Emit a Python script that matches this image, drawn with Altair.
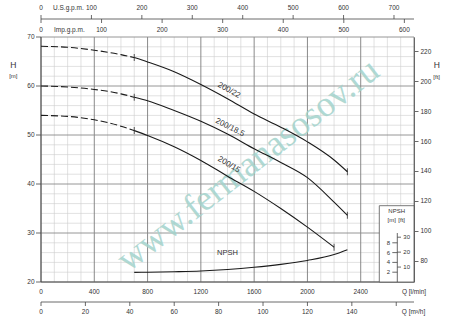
import altair as alt
import pandas as pd

# ---------------- data ----------------
Q_PUMP = [0, 200, 400, 600, 700, 800, 1000, 1200, 1400, 1600, 1800, 2000, 2200, 2300]
H_200_22 = [68.1, 67.9, 67.3, 66.4, 65.8, 64.9, 62.9, 60.3, 57.4, 54.3, 51.6, 48.6, 44.9, 42.5]
H_200_185 = [60.0, 59.8, 59.3, 58.4, 57.7, 57.0, 55.0, 52.8, 50.2, 47.2, 44.4, 41.3, 36.3, 33.6]
Q_PUMP_15 = [0, 200, 400, 600, 700, 800, 1000, 1200, 1400, 1600, 1800, 2000, 2200]
H_200_15 = [54.0, 53.8, 53.1, 51.8, 50.9, 49.9, 47.6, 44.8, 41.6, 38.5, 35.0, 31.2, 27.1]
Q_NPSH = [700, 800, 1000, 1200, 1400, 1600, 1800, 2000, 2200, 2300]
NPSH_M = [1.96, 2.0, 2.1, 2.25, 2.55, 3.0, 3.6, 4.4, 5.6, 6.6]
DASH_LIMIT = 700

CURVE_NAMES = ["200/22", "200/18.5", "200/15"]
LABEL_Q = [1411, 1418, 1410]
LABEL_H = [59.1, 51.5, 43.9]
LABEL_ANGLE = [29, 27, 31]
NPSH_LABEL = ["NPSH"]
NPSH_LABEL_Q = [1400]
NPSH_LABEL_H = [25.85]

X_TICKS = [0, 400, 800, 1200, 1600, 2000, 2400]
X_UNIT_LABEL = ["Q [l/min]"]
X_UNIT_POS = [2800]
H_TICKS = [20, 30, 40, 50, 60, 70]
FT_TICKS = [80, 100, 120, 140, 160, 180, 200, 220]
US_GPM_TICKS = [0, 100, 200, 300, 400, 500, 600, 700]
IMP_GPM_TICKS = [0, 100, 200, 300, 400, 500, 600]
M3H_TICKS = [0, 20, 40, 60, 80, 100, 120, 140, 160]
M3H_LABELS = [0, 20, 40, 60, 80, 100, 120, 140]
NPSH_M_TICKS = [2, 4, 6, 8]
NPSH_FT_TICKS = [10, 20, 30]
NPSH_AXIS_M = [0, 10]
WATERMARK = ["www.fermanasosov.ru"]

GRID_Q = list(range(0, 2801, 100))
GRID_H = list(range(20, 71, 2))

# unit conversions
L_PER_USGAL = 3.78541
L_PER_IMPGAL = 4.54609
LMIN_PER_M3H = 1000 / 60
M_PER_FT = 0.3048
H_BASE = 20  # NPSH zero sits on the 20 m line

FONT = "Liberation Sans"
TXT = "#333333"
LINE = "#1a1a1a"
AX = "#444444"

W, HGT = 373, 245
xs = alt.Scale(domain=[0, 2800], nice=False, zero=False)
ys = alt.Scale(domain=[20, 70], nice=False, zero=False)
fts = alt.Scale(domain=[20 / M_PER_FT, 70 / M_PER_FT], nice=False, zero=False)


def X(f):
    return alt.X(f, type="quantitative", scale=xs, axis=None)


def Y(f):
    return alt.Y(f, type="quantitative", scale=ys, axis=None)


one = pd.DataFrame({"k": [0]})

# ---------------- grid ----------------
gq = pd.DataFrame({"Q": GRID_Q})
gq["major"] = gq["Q"] % 400 == 0
gh = pd.DataFrame({"H": GRID_H})
gh["major"] = gh["H"] % 10 == 0

grid_v_minor = alt.Chart(gq[~gq.major]).mark_rule(color="#cdcdcd", strokeWidth=0.6).encode(x=X("Q"))
grid_h_minor = alt.Chart(gh[~gh.major]).mark_rule(color="#cdcdcd", strokeWidth=0.6).encode(y=Y("H"))
grid_v_major = alt.Chart(gq[gq.major]).mark_rule(color="#7d7d7d", strokeWidth=0.9).encode(x=X("Q"))
grid_h_major = alt.Chart(gh[gh.major]).mark_rule(color="#8a8a8a", strokeWidth=0.9).encode(y=Y("H"))
bottom_line = alt.Chart(pd.DataFrame({"H": [20]})).mark_rule(color="#555555", strokeWidth=1).encode(y=Y("H"))
left_line = alt.Chart(pd.DataFrame({"Q": [0]})).mark_rule(color=AX, strokeWidth=0.9).encode(x=X("Q"))

# ---------------- main axes (drawn as marks) ----------------
xl = pd.DataFrame({"Q": X_TICKS})
x_labels = alt.Chart(xl).mark_text(font=FONT, fontSize=6.5, color=TXT, align="center",
                                   baseline="middle").encode(
    x=X("Q"), y=alt.value(255), text=alt.Text("Q:Q", format="d"))
x_unit = alt.Chart(pd.DataFrame({"t": X_UNIT_LABEL, "Q": X_UNIT_POS})).mark_text(
    font=FONT, fontSize=6.5, color=TXT, align="center", baseline="middle").encode(
    x=X("Q"), y=alt.value(255), text="t:N")
hl = pd.DataFrame({"H": H_TICKS})
y_ticks = alt.Chart(hl).mark_rule(color=AX, strokeWidth=0.8).encode(
    x=alt.value(-5), x2=alt.value(0), y=Y("H"))
y_labels = alt.Chart(hl).mark_text(font=FONT, fontSize=6.5, color=TXT, align="right",
                                   baseline="middle").encode(
    x=alt.value(-6.5), y=Y("H"), text=alt.Text("H:Q", format="d"))

# ---------------- watermark ----------------
watermark = alt.Chart(pd.DataFrame({"t": WATERMARK})).mark_text(
    font="Liberation Serif", fontSize=36, angle=322, color="#a3d3cc", opacity=0.85,
    align="center", baseline="middle").encode(x=alt.value(207), y=alt.value(128), text="t:N")

# ---------------- curves ----------------
rows = []
for name, qs, hs in [("200/22", Q_PUMP, H_200_22), ("200/18.5", Q_PUMP, H_200_185),
                     ("200/15", Q_PUMP_15, H_200_15)]:
    for q, h in zip(qs, hs):
        rows.append({"curve": name, "Q": q, "H": h})
cdf = pd.DataFrame(rows)
dashed = cdf[cdf.Q <= DASH_LIMIT]
solid = cdf[cdf.Q >= DASH_LIMIT]
ends = cdf.groupby("curve").tail(1)
marks_df = pd.concat([cdf[cdf.Q == DASH_LIMIT], ends])

dash_layer = alt.Chart(dashed).mark_line(color=LINE, strokeWidth=1.1, strokeDash=[7, 3],
                                         interpolate="monotone").encode(
    x=X("Q"), y=Y("H"), detail="curve:N")
solid_layer = alt.Chart(solid).mark_line(color=LINE, strokeWidth=1.1,
                                         interpolate="monotone").encode(
    x=X("Q"), y=Y("H"), detail="curve:N")
tick_layer = alt.Chart(marks_df).mark_tick(orient="vertical", size=7, thickness=1,
                                           color=LINE).encode(x=X("Q"), y=Y("H"))

ndf = pd.DataFrame({"Q": Q_NPSH, "npsh": NPSH_M})
npsh_layer = alt.Chart(ndf).transform_calculate(H=f"{H_BASE} + datum.npsh").mark_line(
    color=LINE, strokeWidth=1.1, interpolate="monotone").encode(x=X("Q"), y=Y("H"))

lab_df = pd.DataFrame({"t": CURVE_NAMES, "Q": LABEL_Q, "H": LABEL_H, "a": LABEL_ANGLE})
label_layers = [
    alt.Chart(lab_df.iloc[[i]]).mark_text(font=FONT, fontSize=8, color=TXT, angle=int(a),
                                         align="center", baseline="middle").encode(
        x=X("Q"), y=Y("H"), text="t:N")
    for i, a in enumerate(LABEL_ANGLE)
]
npsh_lab = alt.Chart(pd.DataFrame({"t": NPSH_LABEL, "Q": NPSH_LABEL_Q, "H": NPSH_LABEL_H})).mark_text(
    font=FONT, fontSize=7.5, color=TXT, align="center", baseline="middle").encode(
    x=X("Q"), y=Y("H"), text="t:N")

# ---------------- NPSH inset ----------------
inset_box = alt.Chart(one).mark_rect(fill="white", stroke="#555555", strokeWidth=0.8).encode(
    x=alt.value(338.3), x2=alt.value(W), y=alt.value(168.7), y2=alt.value(HGT))
inset_axis = alt.Chart(pd.DataFrame({"m0": [NPSH_AXIS_M[0]], "m1": [NPSH_AXIS_M[1]]})).transform_calculate(
    h0=f"{H_BASE} + datum.m0", h1=f"{H_BASE} + datum.m1").mark_rule(color=AX, strokeWidth=0.8).encode(
    x=alt.value(356.3), y=Y("h0"), y2=alt.Y2("h1"))
m_df = pd.DataFrame({"v": NPSH_M_TICKS})
ft_df = pd.DataFrame({"v": NPSH_FT_TICKS})
inset_m_ticks = alt.Chart(m_df).transform_calculate(H=f"{H_BASE} + datum.v").mark_rule(
    color=AX, strokeWidth=0.8).encode(x=alt.value(351.3), x2=alt.value(356.3), y=Y("H"))
inset_m_labels = alt.Chart(m_df).transform_calculate(H=f"{H_BASE} + datum.v").mark_text(
    font=FONT, fontSize=6, color=TXT, align="center", baseline="middle").encode(
    x=alt.value(347.3), y=Y("H"), text=alt.Text("v:Q", format="d"))
inset_ft_ticks = alt.Chart(ft_df).transform_calculate(H=f"{H_BASE} + datum.v * {M_PER_FT}").mark_rule(
    color=AX, strokeWidth=0.8).encode(x=alt.value(356.3), x2=alt.value(360), y=Y("H"))
inset_ft_labels = alt.Chart(ft_df).transform_calculate(H=f"{H_BASE} + datum.v * {M_PER_FT}").mark_text(
    font=FONT, fontSize=6, color=TXT, align="center", baseline="middle").encode(
    x=alt.value(365.7), y=Y("H"), text=alt.Text("v:Q", format="d"))
inset_texts = alt.Chart(pd.DataFrame({"t": ["NPSH", "[m]", "[ft]"], "px": [355.7, 350.7, 360.7],
                                      "py": [174, 183, 183]})).mark_text(
    font=FONT, fontSize=6, color=TXT, align="center", baseline="middle").encode(
    x=alt.X("px:Q", scale=None, axis=None), y=alt.Y("py:Q", scale=None, axis=None), text="t:N")


# ---------------- secondary flow axes (top and bottom) ----------------
def flow_axis(values, factor, line_y, tick_dir, label_y, labels=None):
    d = pd.DataFrame({"v": values})
    ticks = alt.Chart(d).transform_calculate(Q=f"datum.v * {factor}").mark_rule(
        color=AX, strokeWidth=0.8).encode(x=X("Q"), y=alt.value(line_y), y2=alt.value(line_y + tick_dir))
    ld = pd.DataFrame({"v": labels if labels is not None else values})
    labs = alt.Chart(ld).transform_calculate(Q=f"datum.v * {factor}").mark_text(
        font=FONT, fontSize=6.5, color=TXT, align="center", baseline="middle").encode(
        x=X("Q"), y=alt.value(label_y), text=alt.Text("v:Q", format="d"))
    return [ticks, labs]


top_line = alt.Chart(one).mark_rule(color=AX, strokeWidth=0.8).encode(
    x=alt.value(0), x2=alt.value(W), y=alt.value(-18))
bot_line = alt.Chart(one).mark_rule(color=AX, strokeWidth=0.8).encode(
    x=alt.value(0), x2=alt.value(W), y=alt.value(265))
us_axis = flow_axis(US_GPM_TICKS, L_PER_USGAL, -18, -4, -29.5)
imp_axis = flow_axis(IMP_GPM_TICKS, L_PER_IMPGAL, -18, 4, -7)
m3h_axis = flow_axis(M3H_TICKS, LMIN_PER_M3H, 265, 4, 274.5, M3H_LABELS)

side_texts_df = pd.DataFrame({
    "t": ["U.S.g.p.m.", "Imp.g.p.m.", "Q [m³/h]", "H", "[m]", "H", "[ft]"],
    "px": [12, 13, 372.5, -27.7, -27.7, 395.7, 395.7],
    "py": [-29.5, -7, 274.5, 28, 39, 28, 39.7],
    "fs": [6.5, 6.5, 6.5, 8.5, 6, 8.5, 6],
    "al": ["left", "left", "center", "center", "center", "center", "center"],
})
side_text_layers = []
for al in ["left", "center"]:
    for fs in sorted(side_texts_df.fs.unique()):
        sub = side_texts_df[(side_texts_df.al == al) & (side_texts_df.fs == fs)]
        if len(sub) == 0:
            continue
        side_text_layers.append(alt.Chart(sub).mark_text(
            font=FONT, fontSize=float(fs), color=TXT, align=al, baseline="middle").encode(
            x=alt.X("px:Q", scale=None, axis=None), y=alt.Y("py:Q", scale=None, axis=None), text="t:N"))

inner = alt.layer(
    grid_v_minor, grid_h_minor, grid_v_major, grid_h_major, bottom_line, left_line,
    watermark,
    inset_box, inset_axis, inset_m_ticks, inset_m_labels, inset_ft_ticks, inset_ft_labels, inset_texts,
    dash_layer, solid_layer, npsh_layer, tick_layer, *label_layers, npsh_lab,
    x_labels, x_unit, y_ticks, y_labels,
    top_line, bot_line, *us_axis, *imp_axis, *m3h_axis, *side_text_layers,
)

ft_layer = alt.Chart(pd.DataFrame({"ft": FT_TICKS})).mark_point(opacity=0).encode(
    y=alt.Y("ft:Q", scale=fts, axis=alt.Axis(
        orient="right", values=FT_TICKS, format="d", grid=False, tickSize=4, tickColor=AX,
        tickWidth=0.8, domain=True, domainColor=AX, domainWidth=0.9, labelPadding=2,
        labelFontSize=6.5, labelColor=TXT, title=None, labelFont=FONT)))

chart = alt.layer(inner, ft_layer).resolve_scale(y="independent").properties(
    width=W, height=HGT,
    autosize=alt.AutoSizeParams(type="none"),
    padding={"left": 41, "top": 37, "right": 36, "bottom": 36},
    background="white",
).configure_view(stroke=None)

chart.save("out.html", embed_options={"renderer": "svg", "actions": False})
